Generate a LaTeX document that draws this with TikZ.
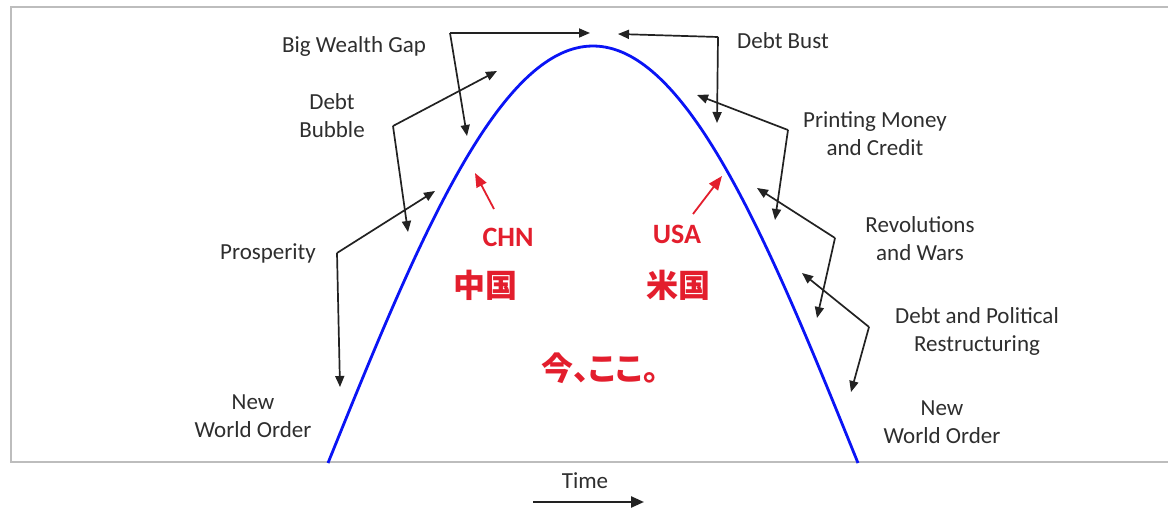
\documentclass[tikz,border=0pt]{standalone}
\usepackage{fontspec}
\setmainfont{Carlito}
\newfontfamily\cjk[RawFeature=+palt]{Noto Sans CJK JP}
\usetikzlibrary{arrows.meta}
\definecolor{txt}{HTML}{2E2E2E}
\definecolor{ln}{HTML}{222222}
\definecolor{fr}{HTML}{BDBDBD}
\definecolor{rd}{HTML}{E31E2D}
\definecolor{bl}{HTML}{0A14F5}
\begin{document}
\begin{tikzpicture}[x=1pt,y=-1pt,
  lbl/.style={text=txt, align=center, inner sep=0pt, font=\fontsize{23}{28}\selectfont},
  rlbl/.style={text=rd, inner sep=0pt, font=\fontsize{28}{32}\selectfont\bfseries},
  jlbl/.style={text=rd, inner sep=0pt, font=\fontsize{32}{36}\selectfont\cjk\bfseries},
  arr/.style={draw=ln, line width=1.7pt, -{Triangle[length=11pt,width=9pt]}},
  rarr/.style={draw=rd, line width=1.8pt, -{Triangle[length=14pt,width=11pt]}}]
\useasboundingbox (0,0) rectangle (1168,510);
\fill[white] (0,0) rectangle (1168,510);
% frame
\draw[fr, line width=2pt] (1170,7.5) -- (11,7.5) -- (11,462.5) -- (1170,462.5);
% curve
\draw[bl, line width=2.8pt, line join=round] plot[domain=328:858, samples=150] (\x, {463 - 417*sin((\x-328)*0.339623)});
% labels
\node[lbl] (bwg) at (354,46) {Big Wealth Gap};
\node[lbl] (bub) at (332,116) {Debt\\Bubble};
\node[lbl] (pro) at (268,253) {Prosperity};
\node[lbl] (nwl) at (253,416) {New\\World Order};
\node[lbl] (bust) at (783,41) {Debt Bust};
\node[lbl] (prt) at (875,134) {Printing Money\\and Credit};
\node[lbl] (rev) at (920,239) {Revolutions\\and Wars};
\node[lbl] (dpr) at (977,331) {Debt and Political\\Restructuring};
\node[lbl] (nwr) at (942,422) {New\\World Order};
\node[lbl] (time) at (585,481) {Time};
% corner coordinates and tips
\coordinate (bwgC) at (450,33);
\coordinate (bwgA) at (590,33);
\coordinate (bwgB) at (467,136);
\coordinate (bubC) at (393,126);
\coordinate (bubA) at (497,71);
\coordinate (bubB) at (408,232);
\coordinate (proC) at (337,253);
\coordinate (proA) at (435,191);
\coordinate (proB) at (340,387);
\coordinate (bustC) at (718,37);
\coordinate (bustA) at (618,34);
\coordinate (bustB) at (717,123);
\coordinate (prtC) at (788,130);
\coordinate (prtA) at (697,95);
\coordinate (prtB) at (775,220);
\coordinate (revC) at (835,238);
\coordinate (revA) at (757,188);
\coordinate (revB) at (817,318);
\coordinate (dprC) at (869,327);
\coordinate (dprA) at (802,273);
\coordinate (dprB) at (851,392);
\foreach \n in {bwg,bub,pro,bust,prt,rev,dpr}{
  \draw[arr] (\n C) -- (\n A);
  \draw[arr] (\n C) -- (\n B);
}
% time arrow
\coordinate (tS) at (533,502);
\coordinate (tE) at (644,502);
\draw[arr, line width=2.4pt, -{Triangle[length=13pt,width=11pt]}] (tS) -- (tE);
% red labels
\node[rlbl] (chn) at (508,237) {CHN};
\node[rlbl] (usa) at (677,234) {USA};
\coordinate (chnS) at (494,209);
\coordinate (chnT) at (475,173);
\coordinate (usaS) at (693,214);
\coordinate (usaT) at (722,176);
\draw[rarr] (chnS) -- (chnT);
\draw[rarr] (usaS) -- (usaT);
\node[jlbl] (cn) at (485,285) {中国};
\node[jlbl] (us) at (678,285) {米国};
\node[jlbl] (now) at (600,368) {今、ここ。};
\end{tikzpicture}
\end{document}
